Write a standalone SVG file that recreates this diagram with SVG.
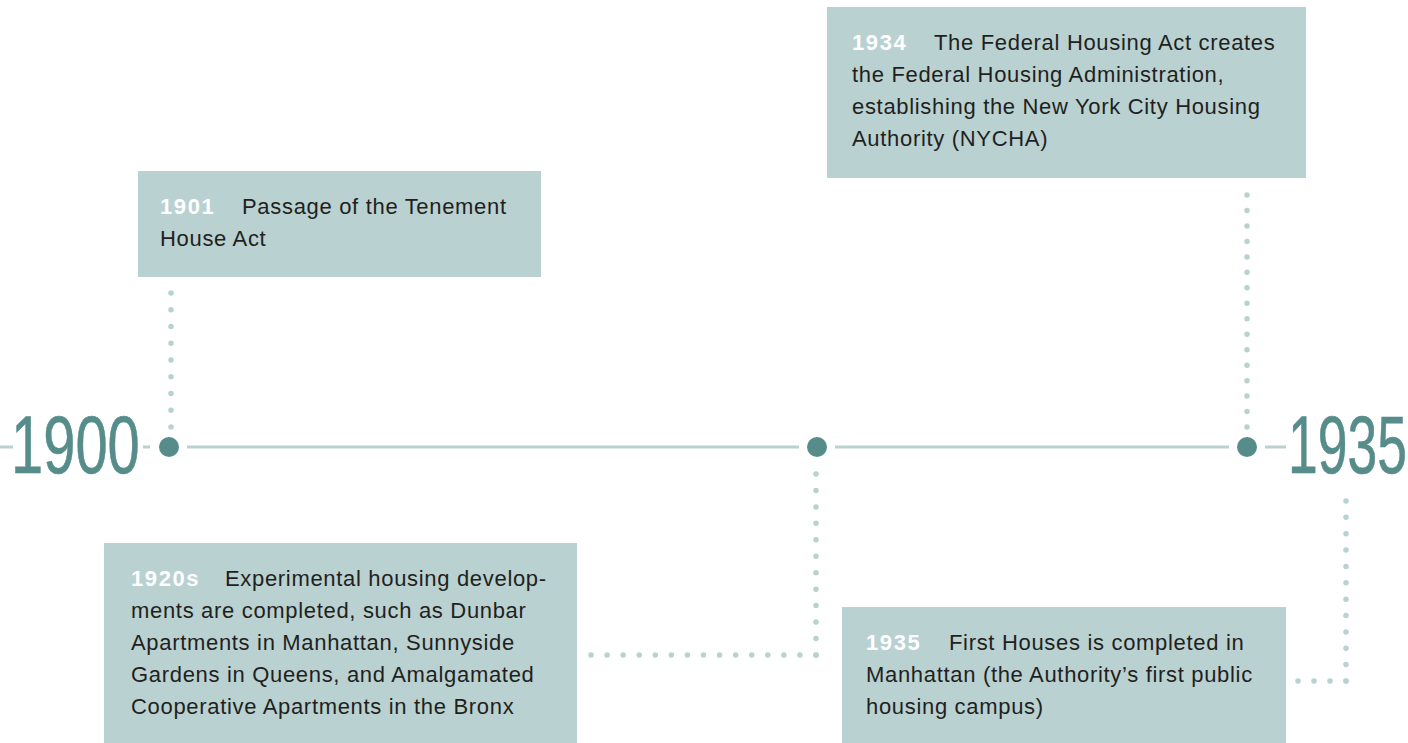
<svg xmlns="http://www.w3.org/2000/svg" width="1408" height="743" viewBox="0 0 1408 743">
  <style>
    .box { fill: #b9d1d1; }
    .axis { stroke: #b9d1d1; stroke-width: 3; fill: none; }
    .dots { stroke: #b9d1d1; stroke-width: 5.5; stroke-linecap: round; fill: none; }
    .big { font-family: "Liberation Sans", Arial, sans-serif; font-size: 81px; fill: #568c8a; stroke: #568c8a; stroke-width: 0.6px; }
    .txt { font-family: "Liberation Sans", Arial, sans-serif; font-size: 22px; fill: #231f20; letter-spacing: 0.68px; }
    .yr { font-weight: 700; fill: #ffffff; letter-spacing: 1.6px; }
    .pt { fill: #568c8a; }
  </style>
  <rect width="1408" height="743" fill="#ffffff"/>

  <g id="axis">
    <line class="axis" x1="0" y1="447" x2="13" y2="447"/>
    <line class="axis" x1="143" y1="447" x2="150" y2="447"/>
    <line class="axis" x1="187" y1="447" x2="799" y2="447"/>
    <line class="axis" x1="835" y1="447" x2="1229" y2="447"/>
    <line class="axis" x1="1265" y1="447" x2="1286" y2="447"/>
  </g>

  <g id="label-1900">
    <text class="big" transform="translate(11,473) scale(0.715,1)">1900</text>
  </g>
  <g id="label-1935">
    <text class="big" transform="translate(1288,473) scale(0.66,1)">1935</text>
  </g>

  <g id="connectors">
    <path class="dots" d="M171 293 V427.2" stroke-dasharray="0 16.75"/>
    <path class="dots" d="M1247 195 V427.2" stroke-dasharray="0 15.47"/>
    <path class="dots" d="M816 474 V655.2" stroke-dasharray="0 16.45"/>
    <path class="dots" d="M816 655 H590.8" stroke-dasharray="0 16.07"/>
    <path class="dots" d="M1346 501 V681.2" stroke-dasharray="0 16.36"/>
    <path class="dots" d="M1346 681 H1297.8" stroke-dasharray="0 16"/>
  </g>

  <g id="point-1900"><circle class="pt" cx="169" cy="447" r="10"/></g>
  <g id="point-1920s"><circle class="pt" cx="817" cy="447" r="10"/></g>
  <g id="point-1934"><circle class="pt" cx="1247" cy="447" r="10"/></g>

  <g id="node-1901">
    <rect class="box" x="138" y="171" width="403" height="106"/>
    <text class="txt"><tspan class="yr" x="160" y="214">1901</tspan><tspan x="242" y="214">Passage of the Tenement</tspan><tspan x="160" y="246">House Act</tspan></text>
  </g>

  <g id="node-1934">
    <rect class="box" x="827" y="7" width="479" height="171"/>
    <text class="txt"><tspan class="yr" x="852" y="50">1934</tspan><tspan x="934" y="50">The Federal Housing Act creates</tspan><tspan x="852" y="82">the Federal Housing Administration,</tspan><tspan x="852" y="114">establishing the New York City Housing</tspan><tspan x="852" y="146">Authority (NYCHA)</tspan></text>
  </g>

  <g id="node-1920s">
    <rect class="box" x="104" y="543" width="473" height="200"/>
    <text class="txt"><tspan class="yr" x="131" y="586">1920s</tspan><tspan x="225" y="586">Experimental housing develop-</tspan><tspan x="131" y="618">ments are completed, such as Dunbar</tspan><tspan x="131" y="650">Apartments in Manhattan, Sunnyside</tspan><tspan x="131" y="682">Gardens in Queens, and Amalgamated</tspan><tspan x="131" y="714">Cooperative Apartments in the Bronx</tspan></text>
  </g>

  <g id="node-1935">
    <rect class="box" x="842" y="607" width="444" height="136"/>
    <text class="txt"><tspan class="yr" x="866" y="650">1935</tspan><tspan x="949" y="650">First Houses is completed in</tspan><tspan x="866" y="682">Manhattan (the Authority’s first public</tspan><tspan x="866" y="714">housing campus)</tspan></text>
  </g>
</svg>
